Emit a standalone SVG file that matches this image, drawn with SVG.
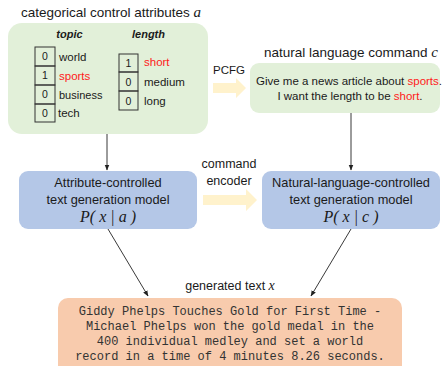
<svg xmlns="http://www.w3.org/2000/svg" width="442" height="366" viewBox="0 0 442 366">
<defs>
<style>
.t{font-family:"Liberation Sans",Arial,sans-serif;fill:#1a1a1a;}
.m{font-family:"Liberation Serif","Times New Roman",serif;font-style:italic;fill:#1a1a1a;}
.mono{font-family:"Liberation Mono","DejaVu Sans Mono",monospace;fill:#333;font-size:12px;}
.red{fill:#ff1a1a;}
.cell{fill:none;stroke:#333;stroke-width:1;}
.conn{stroke:#222;stroke-width:0.9;fill:none;marker-end:url(#ah);}
.fat{fill:#fff2cc;}
</style>
<marker id="ah" viewBox="0 0 10 10" refX="9" refY="5" markerWidth="6" markerHeight="6" orient="auto" markerUnits="userSpaceOnUse">
<path d="M0,1 L10,5 L0,9 Z" fill="#222"/>
</marker>
</defs>

<g id="attributes">
<text class="t" x="21" y="17" font-size="13.5">categorical control attributes <tspan class="m" font-size="15">a</tspan></text>
<rect x="8" y="23" width="200" height="111" rx="14" fill="#e2f0d9"/>
<text class="t" x="69.5" y="38" font-size="11" font-weight="bold" font-style="italic" text-anchor="middle">topic</text>
<text class="t" x="148.5" y="38" font-size="11" font-weight="bold" font-style="italic" text-anchor="middle">length</text>
<rect class="cell" x="35" y="47" width="20" height="19"/>
<rect class="cell" x="35" y="66" width="20" height="19"/>
<rect class="cell" x="35" y="85" width="20" height="19"/>
<rect class="cell" x="35" y="104" width="20" height="18"/>
<g font-size="10.5" class="t" text-anchor="middle">
<text class="t" x="45" y="60">0</text>
<text class="t" x="45" y="79">1</text>
<text class="t" x="45" y="98">0</text>
<text class="t" x="45" y="117">0</text>
</g>
<text class="t" x="59" y="61" font-size="11.5">world</text>
<text class="t red" x="59" y="80" font-size="11.5">sports</text>
<text class="t" x="59" y="99" font-size="11">business</text>
<text class="t" x="58" y="117" font-size="11.5">tech</text>
<rect class="cell" x="119" y="54" width="19" height="18"/>
<rect class="cell" x="119" y="72" width="19" height="19"/>
<rect class="cell" x="119" y="91" width="19" height="19"/>
<text class="t" x="128.5" y="67" font-size="10.5" text-anchor="middle">1</text>
<text class="t" x="128.5" y="86" font-size="10.5" text-anchor="middle">0</text>
<text class="t" x="128.5" y="105" font-size="10.5" text-anchor="middle">0</text>
<text class="t red" x="144" y="66" font-size="11.5">short</text>
<text class="t" x="144" y="86" font-size="11.5">medium</text>
<text class="t" x="144" y="105" font-size="11.5">long</text>
</g>

<g id="command">
<text class="t" x="351" y="57" font-size="13.5" text-anchor="middle">natural language command <tspan class="m" font-size="15">c</tspan></text>
<rect x="250" y="63" width="190" height="50" rx="9" fill="#e2f0d9"/>
<text class="t" x="349" y="85" font-size="11.5" text-anchor="middle">Give me a news article about <tspan class="red">sports</tspan>.</text>
<text class="t" x="350" y="100" font-size="11.5" text-anchor="middle">I want the length to be <tspan class="red">short</tspan>.</text>
</g>

<g id="attr-model">
<rect x="19" y="171" width="178" height="58" rx="9" fill="#b4c7e7"/>
<text class="t" x="108" y="187" font-size="12.8" text-anchor="middle">Attribute-controlled</text>
<text class="t" x="108" y="204" font-size="12.8" text-anchor="middle">text generation model</text>
<text class="m" x="108" y="222" font-size="16" text-anchor="middle">P( x | a )</text>
</g>

<g id="nl-model">
<rect x="262" y="171" width="178" height="58" rx="9" fill="#b4c7e7"/>
<text class="t" x="351" y="187" font-size="12.8" text-anchor="middle">Natural-language-controlled</text>
<text class="t" x="351" y="204" font-size="12.8" text-anchor="middle">text generation model</text>
<text class="m" x="351" y="222" font-size="16" text-anchor="middle">P( x | c )</text>
</g>

<g id="generated">
<text class="t" x="230" y="290" font-size="12.5" text-anchor="middle">generated text <tspan class="m" font-size="14">x</tspan></text>
<rect x="58" y="298" width="344" height="80" rx="10" fill="#f8cbad"/>
<text class="mono" x="230" y="315" text-anchor="middle">Giddy Phelps Touches Gold for First Time -</text>
<text class="mono" x="230" y="330" text-anchor="middle">Michael Phelps won the gold medal in the</text>
<text class="mono" x="230" y="345" text-anchor="middle">400 individual medley and set a world</text>
<text class="mono" x="230" y="360" text-anchor="middle">record in a time of 4 minutes 8.26 seconds.</text>
</g>

<g id="connectors">
<path class="fat" d="M213,83 L236,83 L236,78 L246,88 L236,98 L236,93 L213,93 Z"/>
<text class="t" x="229" y="74" font-size="11.5" text-anchor="middle">PCFG</text>
<path class="fat" d="M203,195 L246,195 L246,189 L257,200 L246,211 L246,205 L203,205 Z"/>
<text class="t" x="229" y="168" font-size="12.5" text-anchor="middle">command</text>
<text class="t" x="229" y="185" font-size="12.5" text-anchor="middle">encoder</text>
<line class="conn" x1="107" y1="134" x2="107" y2="170"/>
<line class="conn" x1="351" y1="113" x2="351" y2="170"/>
<line class="conn" x1="108" y1="229" x2="148" y2="296"/>
<line class="conn" x1="351" y1="229" x2="311" y2="296"/>
</g>
</svg>
